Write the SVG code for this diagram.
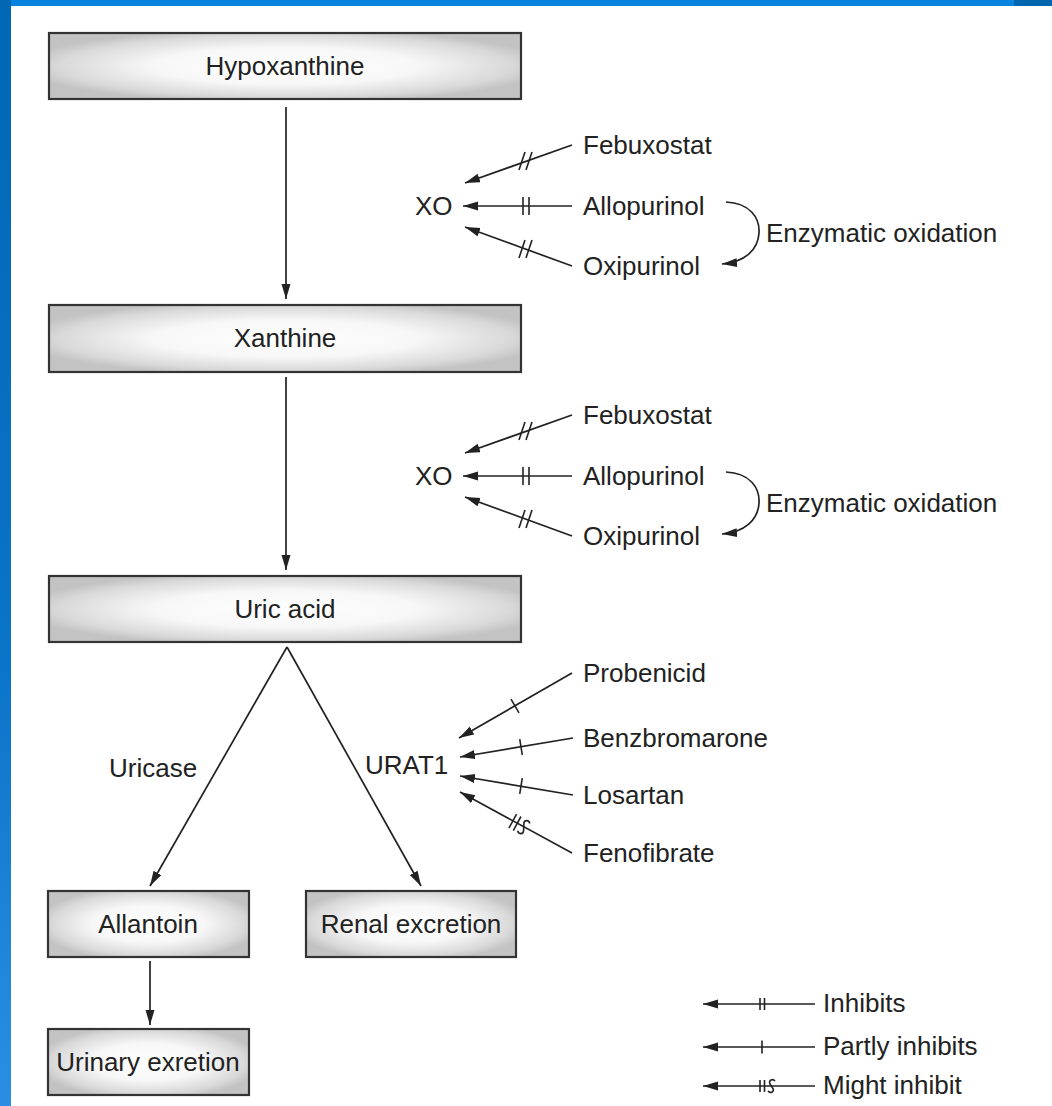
<svg xmlns="http://www.w3.org/2000/svg" xmlns:xlink="http://www.w3.org/1999/xlink" width="1052" height="1106" viewBox="0 0 1052 1106">
<style>
text{font-family:"Liberation Sans",Arial,sans-serif;font-size:26px;fill:#222}
.box{fill:url(#boxfill);stroke:#333;stroke-width:2.2}
.c{text-anchor:middle}
.ln{stroke:#222;stroke-width:1.7;fill:none}
.ar{marker-end:url(#ah)}
.tk{stroke:#222;stroke-width:1.6;fill:none}
</style>
<defs>
<radialGradient id="boxfill" cx="50%" cy="50%" r="56%">
<stop offset="0" stop-color="#ffffff"/>
<stop offset="0.5" stop-color="#f7f7f7"/>
<stop offset="0.85" stop-color="#d9d9d9"/>
<stop offset="1" stop-color="#c3c3c3"/>
</radialGradient>
<linearGradient id="side" x1="0" y1="0" x2="0" y2="1">
<stop offset="0" stop-color="#0067b4"/>
<stop offset="0.6" stop-color="#0a74c8"/>
<stop offset="1" stop-color="#2a8fe2"/>
</linearGradient>
<marker id="ah" markerUnits="userSpaceOnUse" markerWidth="16" markerHeight="10" refX="15" refY="4.5" orient="auto">
<path d="M0,0 L15,4.5 L0,9 Z" fill="#222"/>
</marker>
<g id="tk2v" class="tk"><line x1="-3" y1="-9" x2="-3" y2="9"/><line x1="3" y1="-9" x2="3" y2="9"/></g>
<g id="tk2s" class="tk"><line x1="-7" y1="9" x2="-1" y2="-9"/><line x1="0" y1="9" x2="6" y2="-9"/></g>
<g id="tk1" class="tk"><line x1="0" y1="-8" x2="0" y2="8"/></g>
<g id="tkm" class="tk"><line x1="-6" y1="-8" x2="-6" y2="8"/><line x1="-1" y1="-8" x2="-1" y2="8"/><path d="M10,-6 C8,-9 3,-7 5,-3 L8,3 C10,7 5,9 3,6"/></g>
<g id="lg2" class="tk"><line x1="-2" y1="-6" x2="-2" y2="6"/><line x1="2.5" y1="-6" x2="2.5" y2="6"/></g>
<g id="lg1" class="tk"><line x1="0" y1="-6.5" x2="0" y2="6.5"/></g>
<g id="lgm" class="tk"><line x1="-2" y1="-6" x2="-2" y2="6"/><line x1="2.5" y1="-6" x2="2.5" y2="6"/><path d="M13,-5 C11,-7.5 6,-6 8,-2 L11,2.5 C12.5,6.5 8,7.5 6,5"/></g>
</defs>

<g id="background">
<rect x="0" y="0" width="1052" height="1106" fill="#ffffff"/>
<rect x="0" y="0" width="1052" height="6" fill="#0684e0"/>
<rect x="1014" y="0" width="38" height="6" fill="#0066b0"/>
<rect x="0" y="0" width="11" height="1106" fill="url(#side)"/>
</g>

<g id="connectors">
<line class="ln ar" x1="286" y1="107" x2="286" y2="299"/>
<line class="ln ar" x1="286" y1="377" x2="286" y2="570"/>
<line class="ln ar" x1="287" y1="647" x2="150" y2="886"/>
<line class="ln ar" x1="287" y1="647" x2="421" y2="886"/>
<line class="ln ar" x1="150" y1="961" x2="150" y2="1025"/>

<line class="ln ar" x1="572" y1="145" x2="465" y2="183"/>
<line class="ln ar" x1="572" y1="206" x2="463" y2="206"/>
<line class="ln ar" x1="572" y1="266" x2="465" y2="227"/>
<path class="ln ar" d="M726,202 C750,203 760,218 759,233 C758,250 745,262 722,264"/>
<use href="#tk2s" x="526" y="161"/>
<use href="#tk2v" x="526" y="206"/>
<use href="#tk2s" x="526" y="249"/>

<line class="ln ar" x1="572" y1="415" x2="465" y2="453"/>
<line class="ln ar" x1="572" y1="476" x2="463" y2="476"/>
<line class="ln ar" x1="572" y1="536" x2="465" y2="497"/>
<path class="ln ar" d="M726,472 C750,473 760,488 759,503 C758,520 745,532 722,534"/>
<use href="#tk2s" x="526" y="431"/>
<use href="#tk2v" x="526" y="476"/>
<use href="#tk2s" x="526" y="519"/>

<line class="ln ar" x1="572" y1="673" x2="459" y2="738"/>
<line class="ln ar" x1="573" y1="738" x2="460" y2="757"/>
<line class="ln ar" x1="573" y1="795" x2="460" y2="776"/>
<line class="ln ar" x1="572" y1="853" x2="460" y2="792"/>
<use href="#tk1" transform="translate(515,706) rotate(-30)"/>
<use href="#tk1" transform="translate(521,747) rotate(-9)"/>
<use href="#tk1" transform="translate(521,786) rotate(9)"/>
<use href="#tkm" transform="translate(518,824) rotate(28.6)"/>

<line class="ln ar" x1="815" y1="1004" x2="703" y2="1004"/>
<line class="ln ar" x1="815" y1="1047" x2="703" y2="1047"/>
<line class="ln ar" x1="815" y1="1086" x2="703" y2="1086"/>
<use href="#lg2" x="762" y="1004"/>
<use href="#lg1" x="762" y="1047"/>
<use href="#lgm" x="762" y="1086"/>
</g>

<g id="hypoxanthine"><rect class="box" x="49" y="33" width="472" height="66"/><text class="c" x="285" y="75">Hypoxanthine</text></g>
<g id="xanthine"><rect class="box" x="49" y="305" width="472" height="67"/><text class="c" x="285" y="347">Xanthine</text></g>
<g id="uric-acid"><rect class="box" x="49" y="576" width="472" height="66"/><text class="c" x="285" y="618">Uric acid</text></g>
<g id="allantoin"><rect class="box" x="48" y="891" width="201" height="66"/><text class="c" x="148" y="933">Allantoin</text></g>
<g id="renal-excretion"><rect class="box" x="306" y="891" width="210" height="66"/><text class="c" x="411" y="933">Renal excretion</text></g>
<g id="urinary-exretion"><rect class="box" x="48" y="1029" width="201" height="66"/><text class="c" x="148" y="1071">Urinary exretion</text></g>

<g id="xo-1">
<text x="415" y="215">XO</text>
<text x="583" y="154">Febuxostat</text>
<text x="583" y="215">Allopurinol</text>
<text x="583" y="275">Oxipurinol</text>
<text x="766" y="242">Enzymatic oxidation</text>
</g>
<g id="xo-2">
<text x="415" y="485">XO</text>
<text x="583" y="424">Febuxostat</text>
<text x="583" y="485">Allopurinol</text>
<text x="583" y="545">Oxipurinol</text>
<text x="766" y="512">Enzymatic oxidation</text>
</g>
<g id="urat1">
<text x="109" y="777">Uricase</text>
<text x="365" y="774">URAT1</text>
<text x="583" y="682">Probenicid</text>
<text x="583" y="747">Benzbromarone</text>
<text x="583" y="804">Losartan</text>
<text x="583" y="862">Fenofibrate</text>
</g>
<g id="legend">
<text x="823" y="1012">Inhibits</text>
<text x="823" y="1055">Partly inhibits</text>
<text x="823" y="1094">Might inhibit</text>
</g>
</svg>
